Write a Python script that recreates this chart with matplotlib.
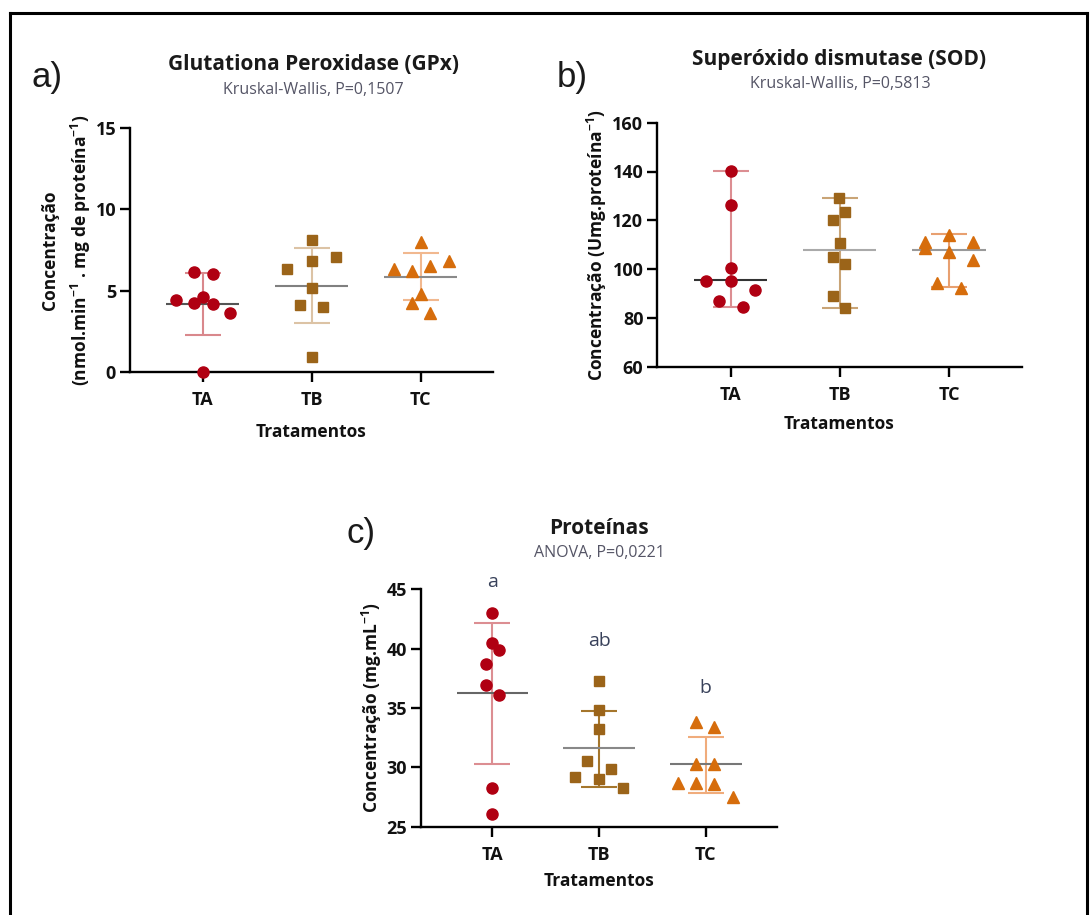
import matplotlib
matplotlib.use("Agg")
import matplotlib.pyplot as plt
import numpy as np
from matplotlib.lines import Line2D

plt.rcParams['font.family'] = ['Open Sans', 'DejaVu Sans']
plt.rcParams['mathtext.default'] = 'regular'

groups = ["TA", "TB", "TC"]

# ---- Panel a: GPx (mean ± SD) ----
gpx_TA = [6.12, 6.00, 4.42, 4.62, 4.21, 4.17, 3.64, 0.00]
gpx_TA_off = [-0.08, 0.09, -0.245, 0.0, -0.08, 0.09, 0.25, 0.0]
gpx_TB = [8.12, 6.35, 6.80, 7.05, 5.14, 4.11, 4.00, 0.88]
gpx_TB_off = [0.0, -0.223, 0.0, 0.226, 0.0, -0.11, 0.107, 0.0]
gpx_TC = [8.01, 6.31, 6.20, 6.51, 6.84, 4.79, 4.25, 3.64]
gpx_TC_off = [0.0, -0.245, -0.08, 0.089, 0.257, 0.0, -0.08, 0.089]
gpx_center = [4.15, 5.30, 5.86]
gpx_low = [2.26, 3.02, 4.42]
gpx_high = [6.06, 7.60, 7.34]

# ---- Panel b: SOD (median with range) ----
sod_TA = [140.2, 126.3, 100.6, 95.2, 95.0, 91.6, 86.9, 84.3]
sod_TA_off = [0.0, 0.0, 0.0, -0.22, 0.0, 0.224, -0.107, 0.11]
sod_TB = [129.0, 123.5, 120.1, 110.5, 105.1, 102.1, 89.0, 83.9]
sod_TB_off = [-0.006, 0.046, -0.061, 0.0, -0.061, 0.046, -0.061, 0.046]
sod_TC = [111.2, 108.5, 114.0, 107.1, 111.2, 103.7, 94.2, 92.1]
sod_TC_off = [-0.224, -0.224, 0.0, 0.0, 0.221, 0.221, -0.113, 0.113]
sod_center = [95.5, 107.8, 107.8]
sod_low = [84.6, 83.9, 92.5]
sod_high = [140.2, 129.0, 114.2]

# ---- Panel c: Proteinas (mean ± SD) ----
prot_TA = [43.03, 40.5, 39.9, 38.7, 36.9, 36.1, 28.3, 26.1]
prot_TA_off = [0.0, 0.0, 0.059, -0.059, -0.059, 0.059, 0.0, 0.0]
prot_TB = [37.28, 34.8, 33.23, 30.56, 29.83, 29.21, 28.99, 28.23]
prot_TB_off = [0.0, 0.0, 0.0, -0.1125, 0.1125, -0.225, 0.0, 0.222]
prot_TC = [33.85, 33.43, 30.28, 30.28, 28.71, 28.71, 28.6, 27.53]
prot_TC_off = [-0.0875, 0.081, -0.0875, 0.081, -0.256, -0.0875, 0.081, 0.253]
prot_center = [36.24, 31.60, 30.25]
prot_low = [30.25, 28.31, 27.87]
prot_high = [42.13, 34.75, 32.58]
prot_letters = ["a", "ab", "b"]
prot_letter_y = [45.6, 40.65, 36.66]

W, H = 1090, 915
fig = plt.figure(figsize=(W / 100, H / 100), dpi=100)

def px_rect(l, r, t, b):
    return [l / W, 1 - b / H, (r - l) / W, (b - t) / H]

marker_colors = ["#b00012", "#9b6419", "#d66d0c"]
markers = ["o", "s", "^"]
msizes = [8.0, 7.3, 8.3]

TICK_FS = 13
LAB_FS = 12.5

def draw_panel(ax, vals, offs, center, low, high, ylim, yticks, err_colors, line_colors, xlabelpad):
    for i in range(3):
        c = center[i]
        ax.errorbar([i], [c], yerr=[[c - low[i]], [high[i] - c]], fmt='none',
                    ecolor=err_colors[i], elinewidth=1.5, capsize=13, capthick=1.5, zorder=1)
        ax.plot([i - 0.336, i + 0.336], [c, c], color=line_colors[i], lw=1.5, zorder=2,
                solid_capstyle='butt')
        xs = np.array(offs[i]) + i
        ax.plot(xs, vals[i], linestyle='none', marker=markers[i], ms=msizes[i],
                color=marker_colors[i], mec=marker_colors[i], zorder=3, clip_on=False)
    ax.set_xlim(-0.67, 2.665)
    ax.set_ylim(*ylim)
    ax.set_yticks(yticks)
    ax.set_xticks(range(3))
    ax.set_xticklabels(groups)
    for s in ["top", "right"]:
        ax.spines[s].set_visible(False)
    for s in ["left", "bottom"]:
        ax.spines[s].set_linewidth(1.7)
    ax.tick_params(axis='both', width=1.7, length=7, labelsize=TICK_FS, pad=3)
    ax.tick_params(axis='x', pad=7)
    for lab in ax.get_xticklabels() + ax.get_yticklabels():
        lab.set_fontweight('bold')
        lab.set_color('#111111')
    ax.set_xlabel("Tratamentos", fontsize=LAB_FS, fontweight='bold', labelpad=xlabelpad, color='#111111')

# Panel a
axa = fig.add_axes(px_rect(130, 493, 128.3, 371.7))
draw_panel(axa, [gpx_TA, gpx_TB, gpx_TC], [gpx_TA_off, gpx_TB_off, gpx_TC_off],
           gpx_center, gpx_low, gpx_high, (0, 15), [0, 5, 10, 15],
           ["#d9888c", "#dcc3a5", "#f1b88f"], ["#555555", "#808080", "#8a8a8a"], 10)
axa.text(-0.173, 0.5, "Concentração\n(nmol.min$^{-1}$ . mg de proteína$^{-1}$)",
         transform=axa.transAxes, rotation=90, ha='center', va='center',
         fontsize=LAB_FS, fontweight='bold', multialignment='center', color='#111111',
         linespacing=1.55)

# Panel b
axb = fig.add_axes(px_rect(657.3, 1021.7, 122.7, 366.7))
draw_panel(axb, [sod_TA, sod_TB, sod_TC], [sod_TA_off, sod_TB_off, sod_TC_off],
           sod_center, sod_low, sod_high, (60, 160), [60, 80, 100, 120, 140, 160],
           ["#dc8e92", "#c9a476", "#e8a070"], ["#333333", "#aaaaaa", "#999999"], 8)
axb.text(-0.165, 0.5, "Concentração (Umg.proteína$^{-1}$)",
         transform=axb.transAxes, rotation=90, ha='center', va='center',
         fontsize=LAB_FS, fontweight='bold', color='#111111')

# Panel c
axc = fig.add_axes(px_rect(421, 776.7, 589.3, 826.7))
draw_panel(axc, [prot_TA, prot_TB, prot_TC], [prot_TA_off, prot_TB_off, prot_TC_off],
           prot_center, prot_low, prot_high, (25, 45), [25, 30, 35, 40, 45],
           ["#dc8e92", "#a5762c", "#f0ac7c"], ["#666666", "#888888", "#777777"], 6)
axc.text(-0.138, 0.5, "Concentração (mg.mL$^{-1}$)",
         transform=axc.transAxes, rotation=90, ha='center', va='center',
         fontsize=LAB_FS, fontweight='bold', color='#111111')
for i in range(3):
    axc.text(i, prot_letter_y[i], prot_letters[i], ha='center', va='center',
             fontsize=14, color='#38415a', clip_on=False)

def ftext(x, y, s, **kw):
    fig.text(x / W, 1 - y / H, s, **kw)

TITLE_FS = 15
SUB_FS = 11.5
ftext(313, 65, "Glutationa Peroxidase (GPx)", ha='center', va='center', fontsize=TITLE_FS, fontweight='bold', color='#1a1a1a')
ftext(313, 90, "Kruskal-Wallis, P=0,1507", ha='center', va='center', fontsize=SUB_FS, color='#555566')
ftext(839, 60, "Superóxido dismutase (SOD)", ha='center', va='center', fontsize=TITLE_FS, fontweight='bold', color='#1a1a1a')
ftext(840, 84, "Kruskal-Wallis, P=0,5813", ha='center', va='center', fontsize=SUB_FS, color='#555566')
ftext(599, 528, "Proteínas", ha='center', va='center', fontsize=TITLE_FS, fontweight='bold', color='#1a1a1a')
ftext(599, 553, "ANOVA, P=0,0221", ha='center', va='center', fontsize=SUB_FS, color='#555566')

for lab, x, y in [("a)", 47, 78), ("b)", 572, 77), ("c)", 361, 533)]:
    ftext(x, y, lab, ha='center', va='center', fontsize=25, family='Liberation Sans', color='#1a1a1a')

# outer frame
fig.add_artist(Line2D([10 / W, 10 / W], [0, 1 - 12.5 / H], color='black', lw=2.2, transform=fig.transFigure))
fig.add_artist(Line2D([10 / W, 1087 / W], [1 - 12.5 / H, 1 - 12.5 / H], color='black', lw=2.2, transform=fig.transFigure))
fig.add_artist(Line2D([1087 / W, 1087 / W], [0, 1 - 12.5 / H], color='black', lw=2.2, transform=fig.transFigure))

fig.savefig("out.png", dpi=100)
